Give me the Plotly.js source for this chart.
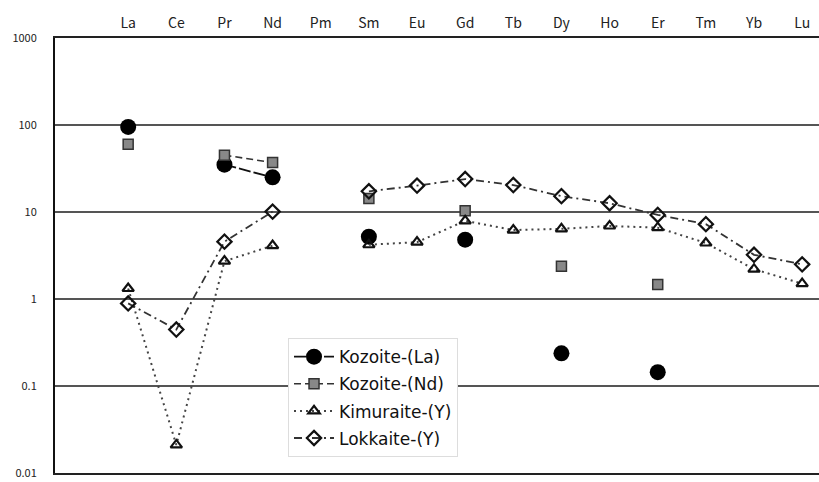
<!DOCTYPE html>
<html><head><meta charset="utf-8">
<script src="https://cdn.plot.ly/plotly-3.0.1.min.js"></script>
<style>html,body{margin:0;padding:0;background:#fff}</style>
</head><body><div id="chart" style="width:819px;height:482px"></div>
<script>
const elements = ["La","Ce","Pr","Nd","Pm","Sm","Eu","Gd","Tb","Dy","Ho","Er","Tm","Yb","Lu"];
const kozoiteLa = [95, null, 35, 25, null, 5.2, null, 4.8, null, 0.237, null, 0.144, null, null, null];
const kozoiteNd = [60, null, 45, 37, null, 14.3, null, 10.3, null, 2.37, null, 1.47, null, null, null];
const kimuraiteY = [1.32, 0.021, 2.72, 4.1, null, 4.2, 4.5, 7.9, 6.2, 6.4, 6.9, 6.6, 4.4, 2.2, 1.5];
const lokkaiteY = [0.89, 0.445, 4.56, 10.1, null, 17.3, 20.1, 23.9, 20.4, 15.2, 12.6, 9.25, 7.25, 3.22, 2.5];
const seriesNames = ["Kozoite-(La)", "Kozoite-(Nd)", "Kimuraite-(Y)", "Lokkaite-(Y)"];
const yTicks = [0.01, 0.1, 1, 10, 100, 1000];
const yTickText = ["0.01", "0.1", "1", "10", "100", "1000"];

const traces = [
  {x: elements, y: kozoiteLa, name: seriesNames[0], legendgroup: "a", mode: "lines+markers", connectgaps: false,
   line: {color: "#111", width: 1.8, dash: "12px,3px"},
   marker: {symbol: "circle", size: 16, color: "#000"}},
  {x: elements, y: kozoiteNd, name: seriesNames[1], legendgroup: "b", mode: "lines+markers", connectgaps: false,
   line: {color: "#333", width: 1.6, dash: "7px,4px"},
   marker: {symbol: "square", size: 10, color: "#888", line: {color: "#333", width: 1.5}}},
  {x: elements, y: kimuraiteY, name: seriesNames[2], legendgroup: "c", mode: "lines+markers", connectgaps: false,
   line: {color: "#444", width: 2, dash: "2px,4px"},
   marker: {symbol: "triangle-up-open", size: 10, color: "#111", line: {width: 2.2}}},
  {x: elements, y: lokkaiteY, name: seriesNames[3], legendgroup: "d", mode: "lines+markers", connectgaps: false,
   line: {color: "#333", width: 1.8, dash: "8px,4px,2px,4px"},
   marker: {symbol: "diamond-open", size: 11, color: "#111", line: {width: 2.2}}}
];

const layout = {
  width: 819, height: 482,
  margin: {l: 55, r: 0, t: 38, b: 9},
  paper_bgcolor: "#fff", plot_bgcolor: "#fff",
  font: {family: "Noto Sans CJK JP, DejaVu Sans, sans-serif", color: "#111"},
  showlegend: true,
  legend: {x: 0.305, y: 0.31, xanchor: "left", yanchor: "top",
    bgcolor: "#fff", bordercolor: "#ddd", borderwidth: 1,
    font: {size: 17, color: "#111", family: "DejaVu Sans, sans-serif"}, tracegroupgap: 2, itemwidth: 40},
  xaxis: {type: "category", side: "top", range: [-1.52, 14.35],
    showgrid: false, zeroline: false, showline: true, mirror: true, linecolor: "#222", linewidth: 2,
    ticks: "", tickfont: {size: 14, color: "#222"}, ticklabelstandoff: 2, fixedrange: true},
  yaxis: {type: "log", range: [-2.0005, 3], tickvals: yTicks, ticktext: yTickText,
    showgrid: true, gridcolor: "#555", gridwidth: 1.5,
    showline: true, linecolor: "#111", linewidth: 2, zeroline: false, ticklabeloverflow: "allow",
    ticks: "", tickfont: {size: 11, color: "#222"}, ticklabelstandoff: 14, fixedrange: true}
};

Plotly.newPlot("chart", traces, layout, {displayModeBar: false, staticPlot: true});
</script></body></html>
